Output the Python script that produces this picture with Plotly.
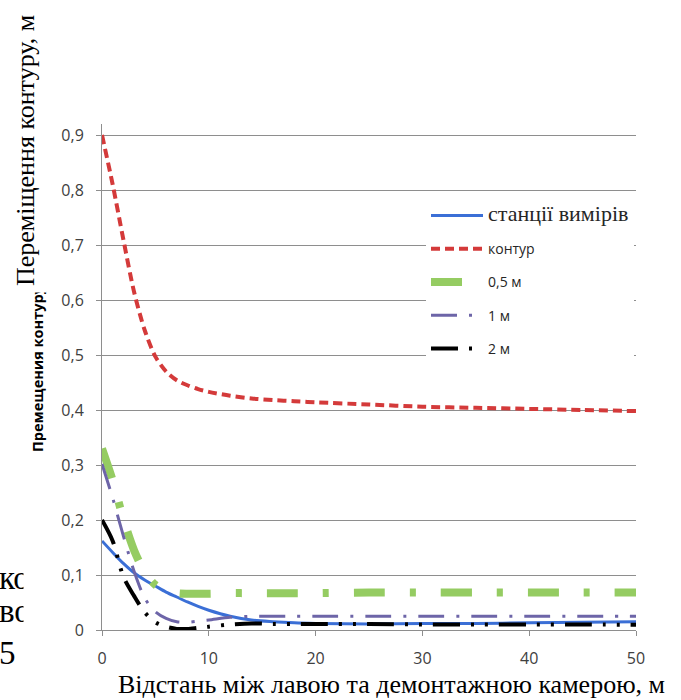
import plotly.graph_objects as go

# Distance between the longwall face and the dismantling chamber, m
distance = [0, 1, 2, 3, 4, 5, 6, 7, 8, 9, 10, 12, 14, 16, 18, 20, 25, 30, 35, 40, 45, 50]

# Contour displacement, m
stations = [0.162, 0.141, 0.121, 0.104, 0.091, 0.080, 0.069, 0.060, 0.051, 0.043, 0.036,
            0.025, 0.018, 0.015, 0.013, 0.012, 0.011, 0.012, 0.012, 0.013, 0.014, 0.015]
contour = [0.900, 0.810, 0.710, 0.615, 0.545, 0.497, 0.470, 0.454, 0.445, 0.438, 0.433,
           0.426, 0.421, 0.418, 0.416, 0.414, 0.410, 0.406, 0.404, 0.402, 0.400, 0.398]
depth_05 = [0.330, 0.272, 0.202, 0.145, 0.105, 0.082, 0.072, 0.067, 0.066, 0.066, 0.066,
            0.067, 0.067, 0.067, 0.067, 0.067, 0.068, 0.068, 0.068, 0.068, 0.068, 0.068]
depth_1 = [0.302, 0.240, 0.171, 0.107, 0.058, 0.033, 0.021, 0.015, 0.014, 0.016, 0.018,
           0.023, 0.025, 0.025, 0.025, 0.025, 0.025, 0.025, 0.025, 0.025, 0.025, 0.025]
depth_2 = [0.200, 0.162, 0.097, 0.062, 0.032, 0.014, 0.006, 0.002, 0.002, 0.004, 0.006,
           0.010, 0.012, 0.011, 0.011, 0.011, 0.011, 0.010, 0.010, 0.010, 0.010, 0.0095]

series_names = ["станції вимірів", "контур", "0,5 м", "1 м", "2 м"]

x_ticks = [0, 10, 20, 30, 40, 50]
x_tick_text = ["0", "10", "20", "30", "40", "50"]
y_ticks = [0, 0.1, 0.2, 0.3, 0.4, 0.5, 0.6, 0.7, 0.8, 0.9]
y_tick_text = ["0", "0,1", "0,2", "0,3", "0,4", "0,5", "0,6", "0,7", "0,8", "0,9"]

W, H = 681, 700
ML, MR, MT, MB = 102, 45, 124, 70
PW, PH = W - ML - MR, H - MT - MB


def px(xpix):
    return (xpix - ML) / PW


def py(ypix):
    return (H - MB - ypix) / PH


SERIF = "Liberation Serif, Times New Roman, serif"
SANS = "Open Sans, Noto Sans, sans-serif"

styles = [
    dict(color="#3b6fd6", width=3, dash="solid"),
    dict(color="#d43a3a", width=4, dash="9px,5px"),
    dict(color="#95cc62", width=8, dash="31px,25px,6px,25px"),
    dict(color="#6d65a8", width=3, dash="26px,12px,3px,12px"),
    dict(color="#000000", width=4, dash="27px,11px,3px,11px,3px,11px"),
]
values = [stations, contour, depth_05, depth_1, depth_2]

legend_names = [
    f"<span style=\"font-family:'Liberation Serif';font-size:22px\">{series_names[0]}</span>",
] + series_names[1:]

fig = go.Figure()
for i, (vals, st) in enumerate(zip(values, styles)):
    fig.add_trace(go.Scatter(
        x=distance, y=vals, mode="lines", name=legend_names[i],
        line=dict(shape="spline", smoothing=0.8, **st),
        legendgroup=f"g{i}", hoverinfo="skip",
    ))

grid = "#8e8e8e"
fig.update_xaxes(
    range=[0, 50], tickvals=x_ticks, ticktext=x_tick_text,
    showgrid=False, zeroline=False, showline=True, linecolor=grid, linewidth=1,
    ticks="outside", ticklen=5, tickcolor=grid, ticklabelstandoff=9,
    tickfont=dict(family=SANS, size=16, color="#404040"),
)
fig.update_yaxes(
    range=[0, 0.92], tickvals=y_ticks, ticktext=y_tick_text,
    showgrid=True, gridcolor=grid, gridwidth=1, zeroline=False,
    showline=True, linecolor=grid, linewidth=1,
    ticks="outside", ticklen=5, tickcolor=grid, ticklabelstandoff=9,
    tickfont=dict(family=SANS, size=16, color="#404040"),
)


def note(**kw):
    base = dict(xref="paper", yref="paper", showarrow=False)
    base.update(kw)
    return base


annotations = [
    # small bold axis caption, partly hidden under the main title
    note(text="<b>Премещения контуру</b>", x=px(37), y=py(369), textangle=-90,
         font=dict(family=SANS, size=14.5, color="#000000"),
         xanchor="center", yanchor="middle"),
    # main vertical axis title
    note(text="Переміщення контуру, м", x=px(25), y=py(151), textangle=-90,
         font=dict(family=SERIF, size=26, color="#000000"),
         xanchor="center", yanchor="middle", bgcolor="#ffffff", borderpad=6),
    # horizontal axis title
    note(text="Відстань між лавою та демонтажною камерою, м", x=px(391), y=py(700),
         font=dict(family=SERIF, size=26, color="#000000"),
         xanchor="center", yanchor="bottom", borderpad=0),
    # fragments of neighbouring text at the left edge
    note(text="ко", x=px(-2), y=py(578), font=dict(family=SERIF, size=33, color="#000000"),
         xanchor="left", yanchor="middle", borderpad=0),
    note(text="во", x=px(-2), y=py(611), font=dict(family=SERIF, size=33, color="#000000"),
         xanchor="left", yanchor="middle", borderpad=0),
    note(text="5", x=px(-2), y=py(653), font=dict(family=SERIF, size=33, color="#000000"),
         xanchor="left", yanchor="middle", borderpad=0),
    note(text=" ", x=px(23), y=py(615), width=24, height=130, bgcolor="#ffffff",
         xanchor="left", yanchor="middle", borderpad=0),
]

fig.update_layout(
    width=W, height=H,
    margin=dict(l=ML, r=MR, t=MT, b=MB),
    paper_bgcolor="#ffffff", plot_bgcolor="#ffffff",
    showlegend=True,
    legend=dict(
        x=px(426), y=py(200), xanchor="left", yanchor="top",
        bgcolor="#ffffff", borderwidth=0, itemwidth=52,
        tracegroupgap=12, font=dict(family=SANS, size=14, color="#262626"),
        itemclick=False, itemdoubleclick=False,
    ),
    annotations=annotations,
)

fig.write_html("out.html")
